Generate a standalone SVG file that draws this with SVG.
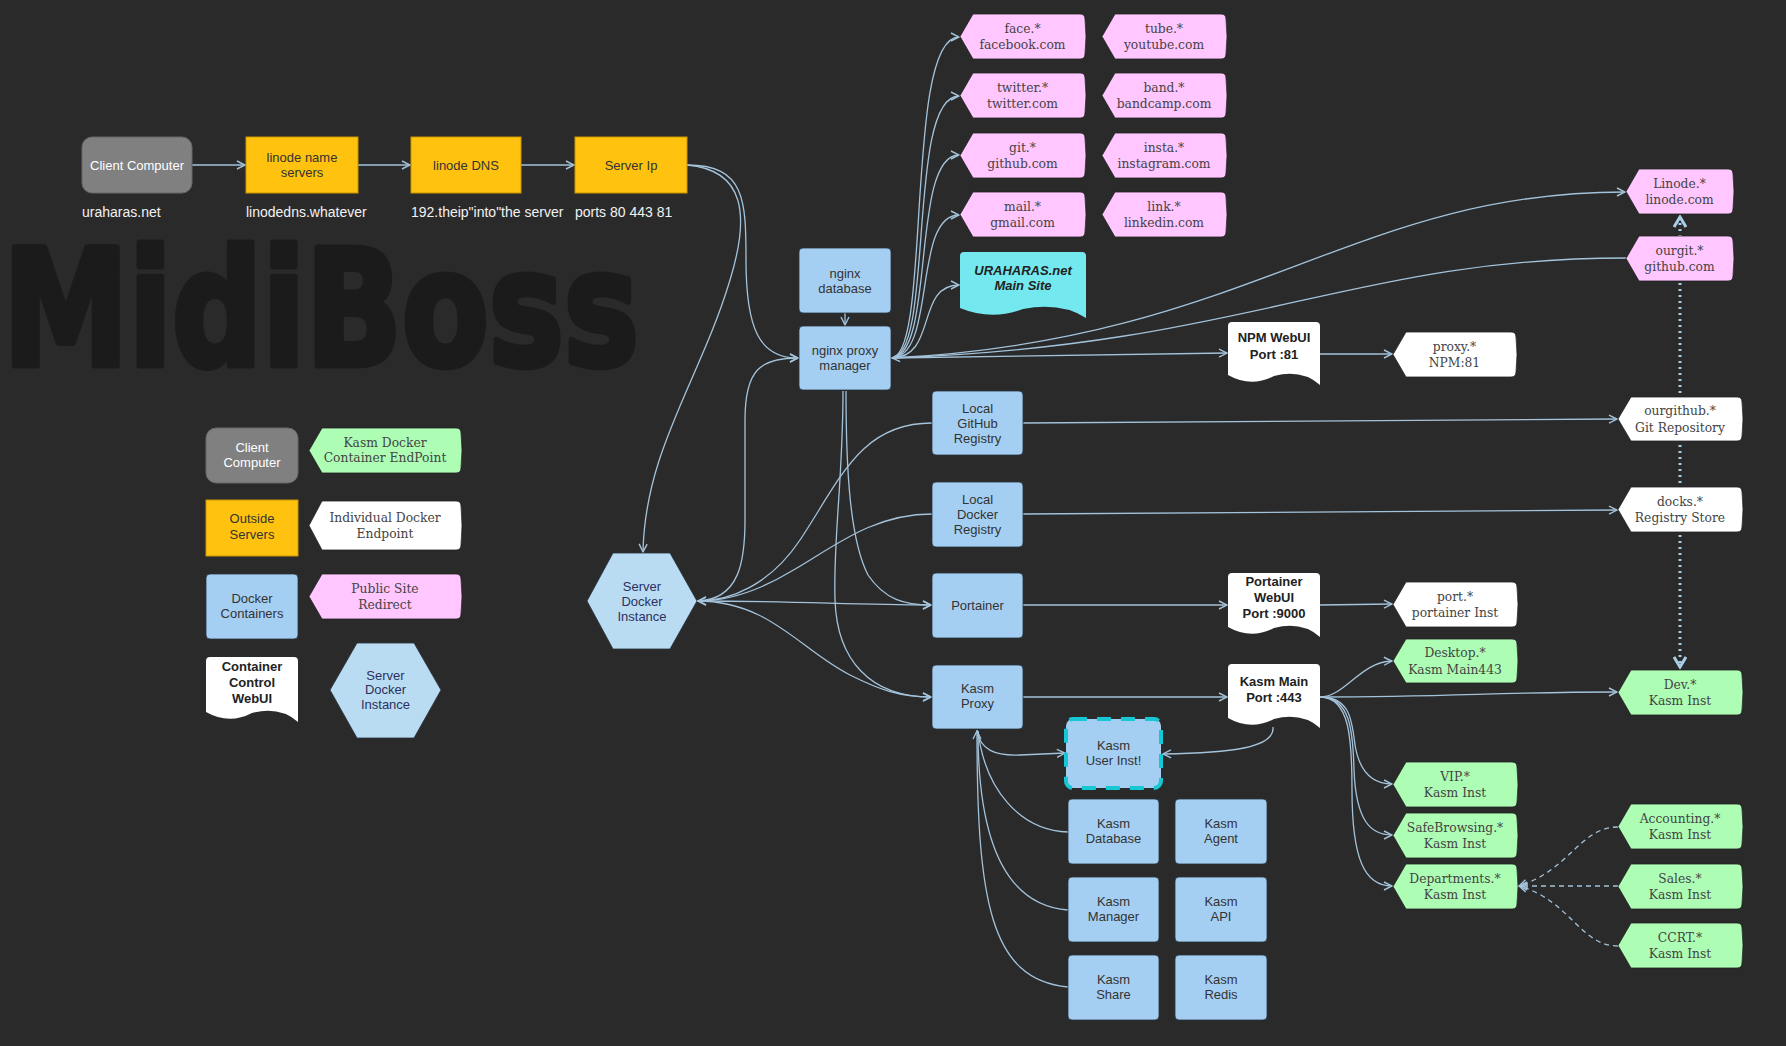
<svg xmlns="http://www.w3.org/2000/svg" width="1786" height="1046" viewBox="0 0 1786 1046">
<style>
.e{fill:none;stroke:#a3c3da;stroke-width:1.3}
.dash{stroke-dasharray:5 4}
.dot{fill:none;stroke:#a9cfe8;stroke-width:3;stroke-dasharray:2 4}
.blue{fill:#a5cff2;stroke:#26323d;stroke-width:0.8}
.hex{fill:#b9dcf3;stroke:#26323d;stroke-width:0.8}
.pink{fill:#ffc6ff;stroke:#222;stroke-width:0.8}
.green{fill:#adfdb5;stroke:#222;stroke-width:0.8}
.white{fill:#ffffff;stroke:#222;stroke-width:0.8}
.yellow{fill:#ffc20e;stroke:#c99500;stroke-width:1}
.gray{fill:#808080;stroke:#666;stroke-width:1}
.doc{fill:#ffffff}
.bt{font-family:"Liberation Sans",Arial,sans-serif;font-size:13px;fill:#333;text-anchor:middle}
.wt{font-family:"Liberation Sans",Arial,sans-serif;font-size:13px;fill:#ffffff;text-anchor:middle}
.ht{font-family:"Liberation Sans",Arial,sans-serif;font-size:13px;fill:#2d3060;text-anchor:middle}
.st{font-family:"DejaVu Serif",serif;font-size:12.3px;fill:#444;text-anchor:middle}
.dt{font-family:"Liberation Sans",Arial,sans-serif;font-size:13px;font-weight:bold;fill:#222;text-anchor:middle}
.lbl{font-family:"Liberation Sans",Arial,sans-serif;font-size:14px;fill:#f2f2f2}
</style>
<defs>
<marker id="a" viewBox="0 0 10 10" refX="9" refY="5" markerWidth="10" markerHeight="10" markerUnits="userSpaceOnUse" orient="auto"><path d="M1,1 L9,5 L1,9" fill="none" stroke="#a3c3da" stroke-width="1.4"/></marker>
<marker id="b" viewBox="0 0 14 14" refX="12" refY="7" markerWidth="14" markerHeight="14" markerUnits="userSpaceOnUse" orient="auto-start-reverse"><path d="M2,1 L12,7 L2,13" fill="none" stroke="#a9cfe8" stroke-width="3"/></marker>
</defs>
<rect x="0" y="0" width="1786" height="1046" fill="#2b2a2b"/>
<text x="3" y="365" font-family="'DejaVu Sans',sans-serif" font-weight="bold" font-size="160" fill="#1c1b1c" stroke="#1c1b1c" stroke-width="7" stroke-linejoin="round" textLength="636" lengthAdjust="spacingAndGlyphs">MidiBoss</text>

<g id="connectors">
<path class="e" marker-end="url(#a)" d="M192,165 L245,165"/>
<path class="e" marker-end="url(#a)" d="M358,165 L410,165"/>
<path class="e" marker-end="url(#a)" d="M521,165 L574,165"/>
<path class="e" marker-end="url(#a)" d="M687,165 C745,165 746,200 746,260 C746,330 760,358 798,358"/>
<path class="e" marker-end="url(#a)" d="M687,165 C745,170 750,215 730,280 C700,380 645,450 643,552"/>
<path class="e" marker-end="url(#a)" d="M845,313 L845,325"/>
<path class="e" marker-end="url(#a)" d="M697,601 C740,600 745,560 745,520 L745,420 C745,370 760,358 798,358"/>
<path class="e" marker-end="url(#a)" d="M932,423 C860,423 840,480 800,540 C770,585 730,601 698,601"/>
<path class="e" marker-end="url(#a)" d="M932,514 C870,514 830,550 790,572 C760,590 730,601 698,601"/>
<path class="e" marker-end="url(#a)" d="M697,601 C800,601 850,605 931,605"/>
<path class="e" marker-end="url(#a)" d="M697,601 C770,601 800,650 850,675 C880,690 900,697 931,697"/>
<path class="e" marker-end="url(#a)" d="M843,391 C843,480 833,540 835,600 C837,660 870,697 931,697"/>
<path class="e" marker-end="url(#a)" d="M846,391 C846,470 850,540 868,575 C885,600 905,605 931,605"/>
<path class="e" marker-end="url(#a)" d="M891,358 C932,358 904,37 959,37"/>
<path class="e" marker-end="url(#a)" d="M891,358 C935,358 906,96 959,96"/>
<path class="e" marker-end="url(#a)" d="M891,358 C936,358 910,155 959,155"/>
<path class="e" marker-end="url(#a)" d="M891,358 C937,358 912,215 959,215"/>
<path class="e" marker-end="url(#a)" d="M891,358 C938,358 915,285 959,285"/>
<path class="e" marker-end="url(#a)" d="M891,358 C1250,340 1350,192 1625,192"/>
<path class="e" marker-end="url(#a)" d="M1626,258 C1350,258 1250,345 892,358"/>
<path class="e" marker-end="url(#a)" d="M891,358 L1227,353"/>
<path class="e" marker-end="url(#a)" d="M1320,354 L1392,354"/>
<path class="e" marker-end="url(#a)" d="M1023,423 L1617,419"/>
<path class="e" marker-end="url(#a)" d="M1023,514 L1617,510"/>
<path class="e" marker-end="url(#a)" d="M1023,605 L1227,605"/>
<path class="e" marker-end="url(#a)" d="M1320,605 L1392,604"/>
<path class="e" marker-end="url(#a)" d="M1023,697 L1227,697"/>
<path class="e" marker-end="url(#a)" d="M1320,697 C1345,697 1360,662 1392,661"/>
<path class="e" marker-end="url(#a)" d="M1320,697 C1450,697 1500,692 1617,692"/>
<path class="e" marker-end="url(#a)" d="M1320,697 C1350,697 1352,720 1355,745 C1360,775 1375,784 1392,784"/>
<path class="e" marker-end="url(#a)" d="M1320,697 C1350,697 1353,730 1354,770 C1356,820 1370,835 1392,835"/>
<path class="e" marker-end="url(#a)" d="M1320,697 C1350,697 1352,740 1352,790 C1352,860 1365,886 1392,886"/>
<path class="e dash" marker-end="url(#a)" d="M1618,827 C1580,827 1570,870 1519,886"/>
<path class="e dash" marker-end="url(#a)" d="M1618,886 L1519,886"/>
<path class="e dash" marker-end="url(#a)" d="M1618,946 C1580,946 1570,900 1519,886"/>
<path class="e" marker-end="url(#a)" d="M1273,727 C1275,748 1230,753 1163,754"/>
<path class="e" marker-end="url(#a)" d="M977,730 C980,750 995,756 1020,755 L1065,753"/>
<path class="e" d="M1068,832 C1020,830 985,790 978,731"/>
<path class="e" d="M1068,910 C1000,905 978,830 978,731"/>
<path class="e" marker-end="url(#a)" d="M1068,987 C990,980 977,900 977,731"/>
<path class="dot" marker-start="url(#b)" marker-end="url(#b)" d="M1680,217 L1680,667"/>
</g>

<g id="client-computer"><rect class="gray" x="82" y="137" width="110" height="56" rx="10"/><text class="wt" x="137" y="169.5">Client Computer</text><text class="lbl" x="82" y="217">uraharas.net</text></g>
<g id="linode-name-servers"><rect class="yellow" x="246" y="137" width="112" height="56"/><text class="bt" x="302" y="162">linode name</text><text class="bt" x="302" y="177">servers</text><text class="lbl" x="246" y="217">linodedns.whatever</text></g>
<g id="linode-dns"><rect class="yellow" x="411" y="137" width="110" height="56"/><text class="bt" x="466" y="169.5">linode DNS</text><text class="lbl" x="411" y="217">192.theip"into"the server</text></g>
<g id="server-ip"><rect class="yellow" x="575" y="137" width="112" height="56"/><text class="bt" x="631" y="169.5">Server Ip</text><text class="lbl" x="575" y="217">ports 80 443 81</text></g>

<g id="nginx-database"><rect class="blue" x="799" y="248" width="92" height="65" rx="4"/><text class="bt" x="845" y="277.5">nginx</text><text class="bt" x="845" y="292.5">database</text></g>
<g id="nginx-proxy-manager"><rect class="blue" x="799" y="326" width="92" height="64" rx="4"/><text class="bt" x="845" y="355">nginx proxy</text><text class="bt" x="845" y="370">manager</text></g>

<g id="server-docker-instance"><polygon class="hex" points="587,601 613,553 670,553 697,601 670,649 613,649"/><text class="ht" x="642" y="590.5">Server</text><text class="ht" x="642" y="605.5">Docker</text><text class="ht" x="642" y="620.5">Instance</text></g>

<g id="local-github-registry"><rect class="blue" x="932" y="391" width="91" height="64" rx="4"/><text class="bt" x="977.5" y="412.5">Local</text><text class="bt" x="977.5" y="427.5">GitHub</text><text class="bt" x="977.5" y="442.5">Registry</text></g>
<g id="local-docker-registry"><rect class="blue" x="932" y="482" width="91" height="65" rx="4"/><text class="bt" x="977.5" y="504">Local</text><text class="bt" x="977.5" y="519">Docker</text><text class="bt" x="977.5" y="534">Registry</text></g>
<g id="portainer"><rect class="blue" x="932" y="573" width="91" height="65" rx="4"/><text class="bt" x="977.5" y="610">Portainer</text></g>
<g id="kasm-proxy"><rect class="blue" x="932" y="665" width="91" height="64" rx="4"/><text class="bt" x="977.5" y="693">Kasm</text><text class="bt" x="977.5" y="708">Proxy</text></g>
<g id="kasm-user-inst"><rect x="1066" y="719" width="95" height="69" rx="7" fill="#a5cff2" stroke="#16c7d4" stroke-width="4" stroke-dasharray="14 10"/><text class="bt" x="1113.5" y="750">Kasm</text><text class="bt" x="1113.5" y="765">User Inst!</text></g>
<g id="kasm-database"><rect class="blue" x="1068" y="799" width="91" height="65" rx="4"/><text class="bt" x="1113.5" y="828">Kasm</text><text class="bt" x="1113.5" y="843">Database</text></g>
<g id="kasm-agent"><rect class="blue" x="1175" y="799" width="92" height="65" rx="4"/><text class="bt" x="1221" y="828">Kasm</text><text class="bt" x="1221" y="843">Agent</text></g>
<g id="kasm-manager"><rect class="blue" x="1068" y="877" width="91" height="65" rx="4"/><text class="bt" x="1113.5" y="906">Kasm</text><text class="bt" x="1113.5" y="921">Manager</text></g>
<g id="kasm-api"><rect class="blue" x="1175" y="877" width="92" height="65" rx="4"/><text class="bt" x="1221" y="906">Kasm</text><text class="bt" x="1221" y="921">API</text></g>
<g id="kasm-share"><rect class="blue" x="1068" y="955" width="91" height="65" rx="4"/><text class="bt" x="1113.5" y="984">Kasm</text><text class="bt" x="1113.5" y="999">Share</text></g>
<g id="kasm-redis"><rect class="blue" x="1175" y="955" width="92" height="65" rx="4"/><text class="bt" x="1221" y="984">Kasm</text><text class="bt" x="1221" y="999">Redis</text></g>

<g id="npm-webui"><path class="doc" d="M1228,326 Q1228,322 1232,322 H1316 Q1320,322 1320,326 V385 Q1301.6,369 1274,376 Q1251,388 1228,375 Z"/><text class="dt" x="1274" y="342">NPM WebUI</text><text class="dt" x="1274" y="359">Port :81</text></g>
<g id="portainer-webui"><path class="doc" d="M1228,577 Q1228,573 1232,573 H1316 Q1320,573 1320,577 V637 Q1301.6,621 1274,628 Q1251,640 1228,627 Z"/><text class="dt" x="1274" y="586">Portainer</text><text class="dt" x="1274" y="602">WebUI</text><text class="dt" x="1274" y="618">Port :9000</text></g>
<g id="kasm-main"><path class="doc" d="M1228,668 Q1228,664 1232,664 H1316 Q1320,664 1320,668 V728 Q1301.6,712 1274,719 Q1251,731 1228,718 Z"/><text class="dt" x="1274" y="686">Kasm Main</text><text class="dt" x="1274" y="702">Port :443</text></g>
<g id="uraharas-main-site"><path d="M960,256 Q960,252 964,252 H1082 Q1086,252 1086,256 V318 Q1060.8,302 1023,309 Q991.5,321 960,308 Z" fill="#74e8ef"/><text class="dt" x="1023" y="275" font-style="italic" fill="#1f2a2e">URAHARAS.net</text><text class="dt" x="1023" y="290" font-style="italic" fill="#1f2a2e">Main Site</text></g>

<g id="face"><path class="pink" d="M960,36.5 L973,14 H1080 Q1085,14 1085,19 Q1087,36.5 1085,54 Q1085,59 1080,59 H973 Z"/><text class="st" x="1022.5" y="32.5">face.*</text><text class="st" x="1022.5" y="49">facebook.com</text></g>
<g id="tube"><path class="pink" d="M1102,36.5 L1115,14 H1221 Q1226,14 1226,19 Q1228,36.5 1226,54 Q1226,59 1221,59 H1115 Z"/><text class="st" x="1164" y="32.5">tube.*</text><text class="st" x="1164" y="49">youtube.com</text></g>
<g id="twitter"><path class="pink" d="M960,95.5 L973,73 H1080 Q1085,73 1085,78 Q1087,95.5 1085,113 Q1085,118 1080,118 H973 Z"/><text class="st" x="1022.5" y="91.5">twitter.*</text><text class="st" x="1022.5" y="108">twitter.com</text></g>
<g id="band"><path class="pink" d="M1102,95.5 L1115,73 H1221 Q1226,73 1226,78 Q1228,95.5 1226,113 Q1226,118 1221,118 H1115 Z"/><text class="st" x="1164" y="91.5">band.*</text><text class="st" x="1164" y="108">bandcamp.com</text></g>
<g id="git"><path class="pink" d="M960,155.5 L973,133 H1080 Q1085,133 1085,138 Q1087,155.5 1085,173 Q1085,178 1080,178 H973 Z"/><text class="st" x="1022.5" y="151.5">git.*</text><text class="st" x="1022.5" y="168">github.com</text></g>
<g id="insta"><path class="pink" d="M1102,155.5 L1115,133 H1221 Q1226,133 1226,138 Q1228,155.5 1226,173 Q1226,178 1221,178 H1115 Z"/><text class="st" x="1164" y="151.5">insta.*</text><text class="st" x="1164" y="168">instagram.com</text></g>
<g id="mail"><path class="pink" d="M960,214.5 L973,192 H1080 Q1085,192 1085,197 Q1087,214.5 1085,232 Q1085,237 1080,237 H973 Z"/><text class="st" x="1022.5" y="210.5">mail.*</text><text class="st" x="1022.5" y="227">gmail.com</text></g>
<g id="link"><path class="pink" d="M1102,214.5 L1115,192 H1221 Q1226,192 1226,197 Q1228,214.5 1226,232 Q1226,237 1221,237 H1115 Z"/><text class="st" x="1164" y="210.5">link.*</text><text class="st" x="1164" y="227">linkedin.com</text></g>
<g id="linode"><path class="pink" d="M1626,191.5 L1639,169 H1728 Q1733,169 1733,174 Q1735,191.5 1733,209 Q1733,214 1728,214 H1639 Z"/><text class="st" x="1679.5" y="187.5">Linode.*</text><text class="st" x="1679.5" y="204">linode.com</text></g>
<g id="ourgit"><path class="pink" d="M1626,258.5 L1639,236 H1728 Q1733,236 1733,241 Q1735,258.5 1733,276 Q1733,281 1728,281 H1639 Z"/><text class="st" x="1679.5" y="254.5">ourgit.*</text><text class="st" x="1679.5" y="271">github.com</text></g>

<g id="proxy"><path class="white" d="M1393,354.5 L1406,332 H1511 Q1516,332 1516,337 Q1518,354.5 1516,372 Q1516,377 1511,377 H1406 Z"/><text class="st" x="1454.5" y="350.5">proxy.*</text><text class="st" x="1454.5" y="367">NPM:81</text></g>
<g id="ourgithub"><path class="white" d="M1618,419 L1631,397 H1737 Q1742,397 1742,402 Q1744,419 1742,436 Q1742,441 1737,441 H1631 Z"/><text class="st" x="1680" y="415">ourgithub.*</text><text class="st" x="1680" y="431.5">Git Repository</text></g>
<g id="docks"><path class="white" d="M1618,509.5 L1631,487 H1737 Q1742,487 1742,492 Q1744,509.5 1742,527 Q1742,532 1737,532 H1631 Z"/><text class="st" x="1680" y="505.5">docks.*</text><text class="st" x="1680" y="522">Registry Store</text></g>
<g id="port"><path class="white" d="M1393,604.5 L1406,582 H1512 Q1517,582 1517,587 Q1519,604.5 1517,622 Q1517,627 1512,627 H1406 Z"/><text class="st" x="1455" y="600.5">port.*</text><text class="st" x="1455" y="617">portainer Inst</text></g>

<g id="desktop"><path class="green" d="M1393,661 L1406,639 H1512 Q1517,639 1517,644 Q1519,661 1517,678 Q1517,683 1512,683 H1406 Z"/><text class="st" x="1455" y="657">Desktop.*</text><text class="st" x="1455" y="673.5">Kasm Main443</text></g>
<g id="dev"><path class="green" d="M1618,692.5 L1631,670 H1737 Q1742,670 1742,675 Q1744,692.5 1742,710 Q1742,715 1737,715 H1631 Z"/><text class="st" x="1680" y="688.5">Dev.*</text><text class="st" x="1680" y="705">Kasm Inst</text></g>
<g id="vip"><path class="green" d="M1393,784.5 L1406,762 H1512 Q1517,762 1517,767 Q1519,784.5 1517,802 Q1517,807 1512,807 H1406 Z"/><text class="st" x="1455" y="780.5">VIP.*</text><text class="st" x="1455" y="797">Kasm Inst</text></g>
<g id="safebrowsing"><path class="green" d="M1393,835.5 L1406,813 H1512 Q1517,813 1517,818 Q1519,835.5 1517,853 Q1517,858 1512,858 H1406 Z"/><text class="st" x="1455" y="831.5">SafeBrowsing.*</text><text class="st" x="1455" y="848">Kasm Inst</text></g>
<g id="departments"><path class="green" d="M1393,886.5 L1406,864 H1512 Q1517,864 1517,869 Q1519,886.5 1517,904 Q1517,909 1512,909 H1406 Z"/><text class="st" x="1455" y="882.5">Departments.*</text><text class="st" x="1455" y="899">Kasm Inst</text></g>
<g id="accounting"><path class="green" d="M1618,826.5 L1631,804 H1737 Q1742,804 1742,809 Q1744,826.5 1742,844 Q1742,849 1737,849 H1631 Z"/><text class="st" x="1680" y="822.5">Accounting.*</text><text class="st" x="1680" y="839">Kasm Inst</text></g>
<g id="sales"><path class="green" d="M1618,886.5 L1631,864 H1737 Q1742,864 1742,869 Q1744,886.5 1742,904 Q1742,909 1737,909 H1631 Z"/><text class="st" x="1680" y="882.5">Sales.*</text><text class="st" x="1680" y="899">Kasm Inst</text></g>
<g id="ccrt"><path class="green" d="M1618,945.5 L1631,923 H1737 Q1742,923 1742,928 Q1744,945.5 1742,963 Q1742,968 1737,968 H1631 Z"/><text class="st" x="1680" y="941.5">CCRT.*</text><text class="st" x="1680" y="958">Kasm Inst</text></g>

<g id="legend">
<g id="legend-client"><rect class="gray" x="206" y="428" width="92" height="55" rx="10"/><text class="wt" x="252" y="451.5">Client</text><text class="wt" x="252" y="466.5">Computer</text></g>
<g id="legend-kasm-endpoint"><path class="green" d="M309,450.5 L322,428 H456 Q461,428 461,433 Q463,450.5 461,468 Q461,473 456,473 H322 Z"/><text class="st" x="385" y="446.5">Kasm Docker</text><text class="st" x="385" y="462">Container EndPoint</text></g>
<g id="legend-outside"><rect class="yellow" x="206" y="500" width="92" height="56"/><text class="bt" x="252" y="523" fill="#222">Outside</text><text class="bt" x="252" y="539" fill="#222">Servers</text></g>
<g id="legend-individual"><path class="white" d="M309,525.5 L322,501 H456 Q461,501 461,506 Q463,525.5 461,545 Q461,550 456,550 H322 Z"/><text class="st" x="385" y="521.5">Individual Docker</text><text class="st" x="385" y="537.5">Endpoint</text></g>
<g id="legend-docker"><rect class="blue" x="206" y="574" width="92" height="65" rx="4"/><text class="bt" x="252" y="602.5">Docker</text><text class="bt" x="252" y="617.5">Containers</text></g>
<g id="legend-public"><path class="pink" d="M309,596.5 L322,574 H456 Q461,574 461,579 Q463,596.5 461,614 Q461,619 456,619 H322 Z"/><text class="st" x="385" y="592.5">Public Site</text><text class="st" x="385" y="608.5">Redirect</text></g>
<g id="legend-webui"><path class="doc" d="M206,661 Q206,657 210,657 H294 Q298,657 298,661 V722 Q279.6,706 252,713 Q229,725 206,712 Z"/><text class="dt" x="252" y="671">Container</text><text class="dt" x="252" y="687">Control</text><text class="dt" x="252" y="703">WebUI</text></g>
<g id="legend-hex"><polygon class="hex" points="330,690 357,643 414,643 441,690 414,738 357,738"/><text class="ht" x="385.5" y="679.5">Server</text><text class="ht" x="385.5" y="694">Docker</text><text class="ht" x="385.5" y="708.5">Instance</text></g>
</g>
</svg>
